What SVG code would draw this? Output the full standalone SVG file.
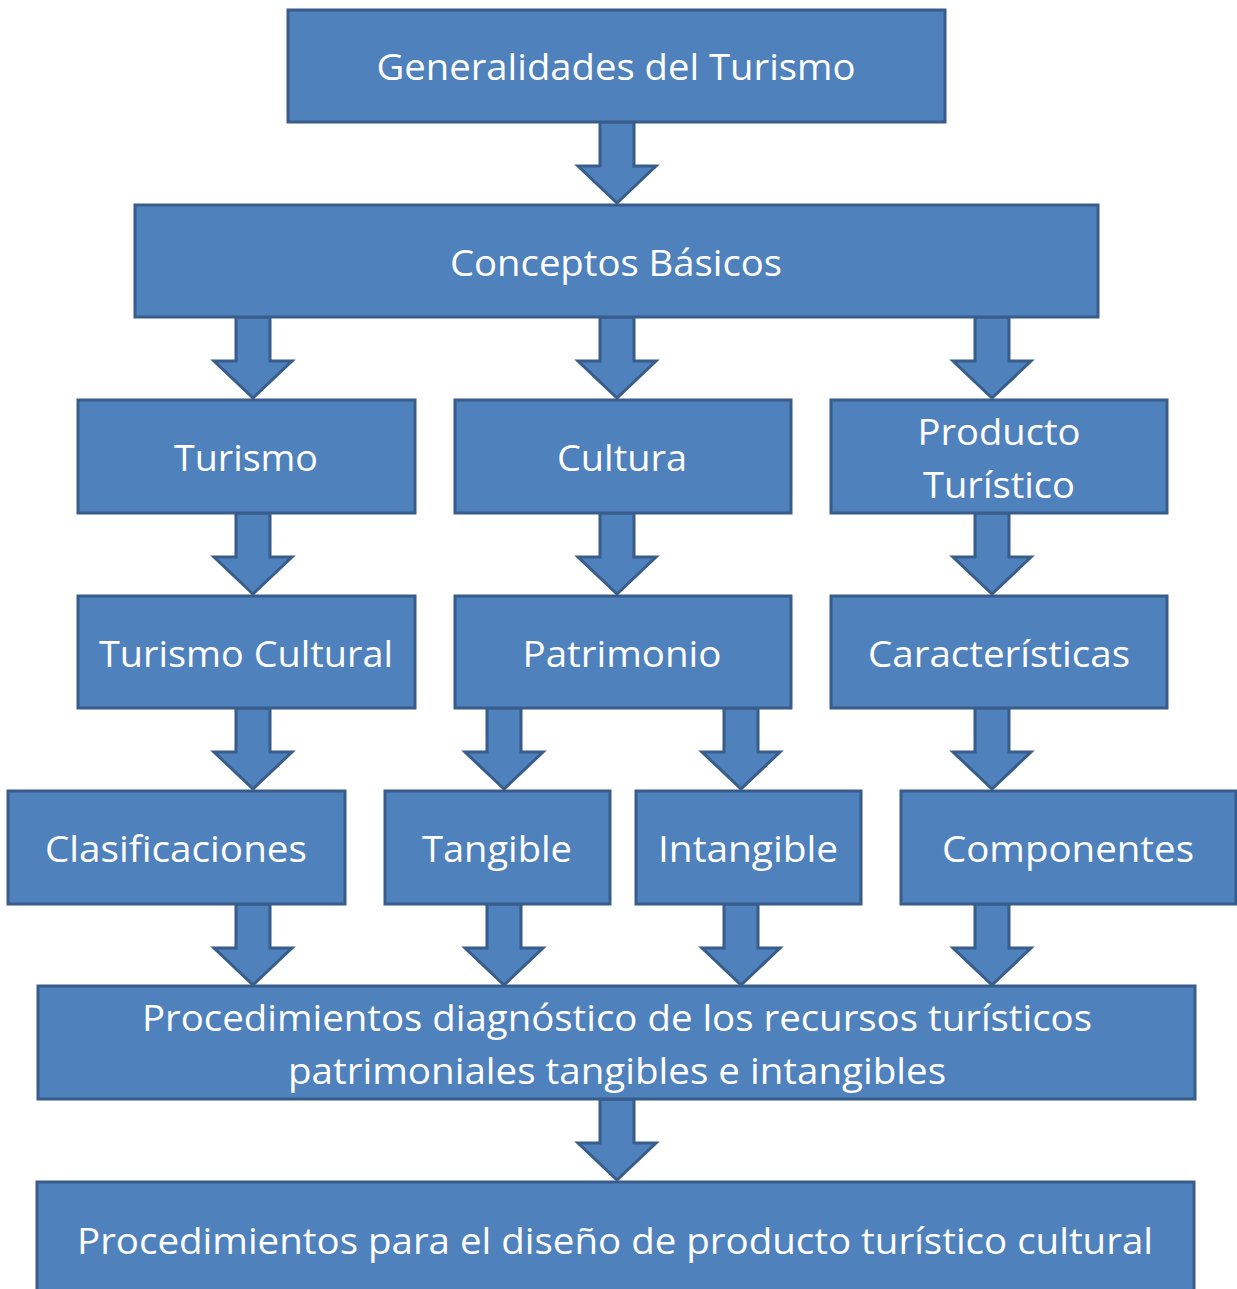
<svg xmlns="http://www.w3.org/2000/svg" width="1237" height="1289" viewBox="0 0 1237 1289">
<style>
.box{fill:#4F81BD;stroke:#385D8A;stroke-width:3}
.arr{fill:#4F81BD;stroke:#385D8A;stroke-width:3;stroke-linejoin:miter}
text{font-family:"Open Sans","Noto Sans","DejaVu Sans",sans-serif;font-size:37px;fill:#FFFFFF;text-anchor:middle}
</style>
<defs>
<path id="a" class="arr" d="M-17,0 H17 V44 H39 L0,81 L-39,44 H-17 Z"/>
</defs>
<rect width="1237" height="1289" fill="#FFFFFF"/>
<g id="connectors">
<use href="#a" x="617" y="122"/>
<use href="#a" x="253" y="317"/>
<use href="#a" x="617" y="317"/>
<use href="#a" x="992" y="317"/>
<use href="#a" x="253" y="513"/>
<use href="#a" x="617" y="513"/>
<use href="#a" x="992" y="513"/>
<use href="#a" x="253" y="708"/>
<use href="#a" x="504" y="708"/>
<use href="#a" x="741" y="708"/>
<use href="#a" x="992" y="708"/>
<use href="#a" x="253" y="904"/>
<use href="#a" x="504" y="904"/>
<use href="#a" x="741" y="904"/>
<use href="#a" x="992" y="904"/>
<use href="#a" x="617" y="1099"/>
</g>
<g id="n-generalidades"><rect class="box" x="288" y="10" width="657" height="112"/><text x="616" y="80" textLength="479" lengthAdjust="spacingAndGlyphs">Generalidades del Turismo</text></g>
<g id="n-conceptos"><rect class="box" x="135" y="205" width="963" height="112"/><text x="616" y="276" textLength="332" lengthAdjust="spacingAndGlyphs">Conceptos Básicos</text></g>
<g id="n-turismo"><rect class="box" x="78" y="400" width="337" height="113"/><text x="246" y="471" textLength="144" lengthAdjust="spacingAndGlyphs">Turismo</text></g>
<g id="n-cultura"><rect class="box" x="455" y="400" width="336" height="113"/><text x="622" y="471" textLength="130" lengthAdjust="spacingAndGlyphs">Cultura</text></g>
<g id="n-producto"><rect class="box" x="831" y="400" width="336" height="113"/><text x="999" y="445" textLength="163" lengthAdjust="spacingAndGlyphs">Producto</text><text x="999" y="498" textLength="152" lengthAdjust="spacingAndGlyphs">Turístico</text></g>
<g id="n-turismo-cultural"><rect class="box" x="78" y="596" width="337" height="112"/><text x="246" y="667" textLength="294" lengthAdjust="spacingAndGlyphs">Turismo Cultural</text></g>
<g id="n-patrimonio"><rect class="box" x="455" y="596" width="336" height="112"/><text x="622" y="667" textLength="199" lengthAdjust="spacingAndGlyphs">Patrimonio</text></g>
<g id="n-caracteristicas"><rect class="box" x="831" y="596" width="336" height="112"/><text x="999" y="667" textLength="262" lengthAdjust="spacingAndGlyphs">Características</text></g>
<g id="n-clasificaciones"><rect class="box" x="8" y="791" width="337" height="113"/><text x="176" y="862" textLength="262" lengthAdjust="spacingAndGlyphs">Clasificaciones</text></g>
<g id="n-tangible"><rect class="box" x="385" y="791" width="225" height="113"/><text x="497" y="862" textLength="150" lengthAdjust="spacingAndGlyphs">Tangible</text></g>
<g id="n-intangible"><rect class="box" x="636" y="791" width="225" height="113"/><text x="748" y="862" textLength="180" lengthAdjust="spacingAndGlyphs">Intangible</text></g>
<g id="n-componentes"><rect class="box" x="901" y="791" width="335" height="113"/><text x="1068" y="862" textLength="252" lengthAdjust="spacingAndGlyphs">Componentes</text></g>
<g id="n-diagnostico"><rect class="box" x="38" y="986" width="1157" height="113"/><text x="617" y="1031" textLength="950" lengthAdjust="spacingAndGlyphs">Procedimientos diagnóstico de los recursos turísticos</text><text x="617" y="1084" textLength="658" lengthAdjust="spacingAndGlyphs">patrimoniales tangibles e intangibles</text></g>
<g id="n-diseno"><rect class="box" x="37" y="1182" width="1157" height="120"/><text x="615" y="1254" textLength="1076" lengthAdjust="spacingAndGlyphs">Procedimientos para el diseño de producto turístico cultural</text></g>
</svg>
